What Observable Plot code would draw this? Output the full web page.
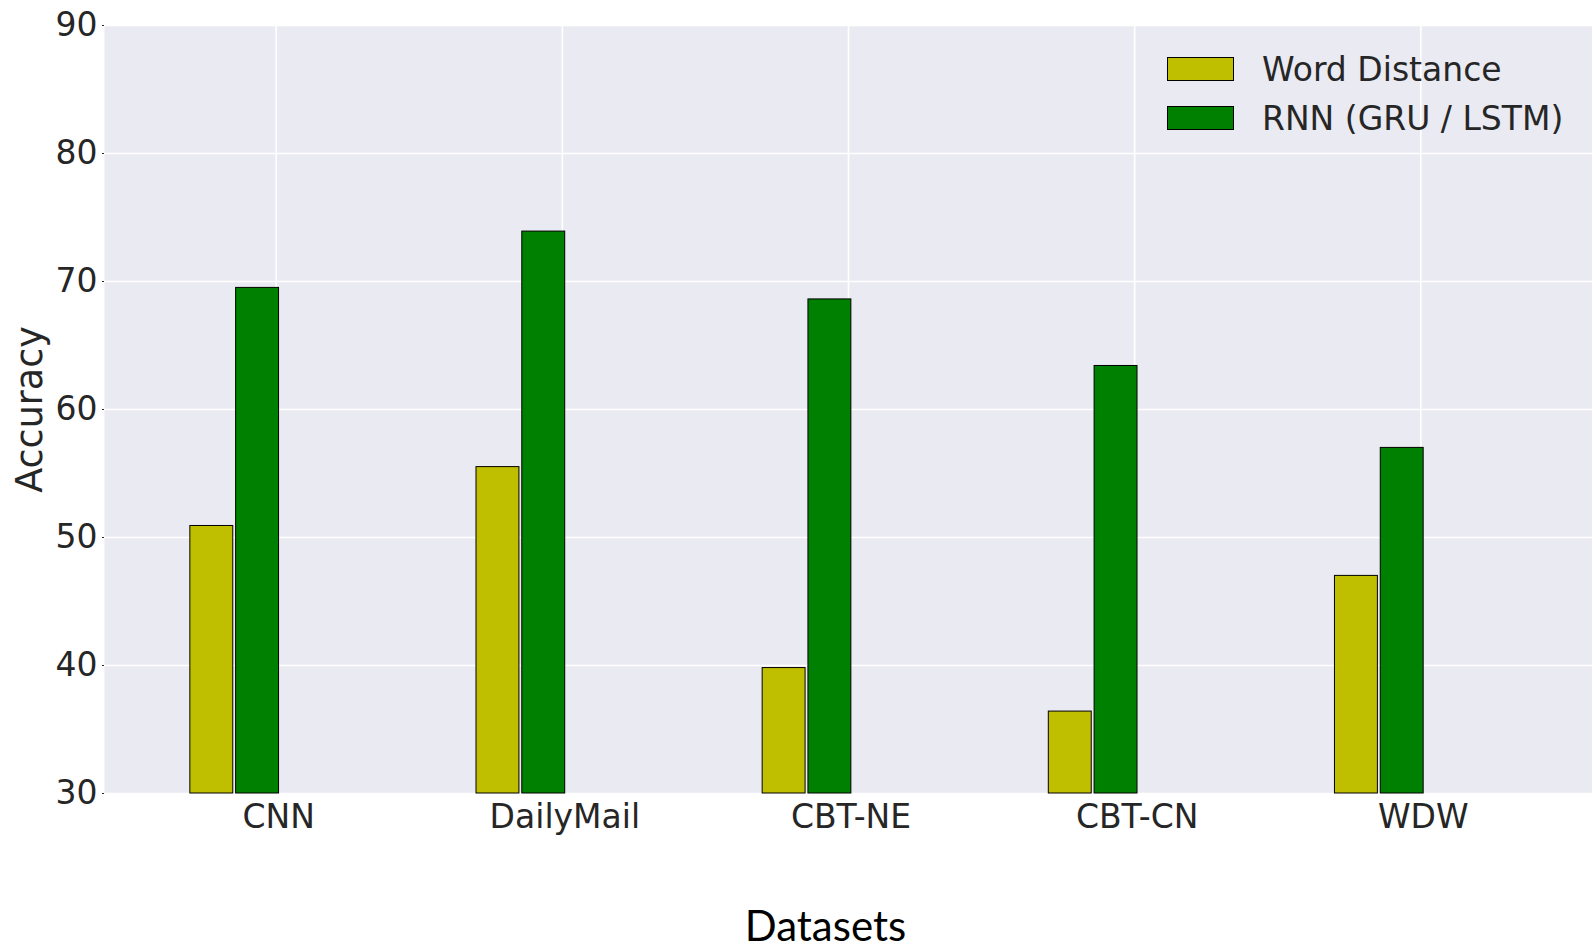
<!DOCTYPE html>
<html>
<head>
<meta charset="utf-8">
<script src="https://cdn.jsdelivr.net/npm/d3@7"></script>
<script src="https://cdn.jsdelivr.net/npm/@observablehq/plot@0.6"></script>
<style>
  html, body { margin: 0; padding: 0; background: #fff; }
  #wrap { position: relative; width: 1592px; height: 950px; overflow: hidden; }
  .leg-sw { position: absolute; width: 66px; height: 23px; border: 1px solid #000; box-sizing: border-box; }
  .leg-tx { position: absolute; font-family: "DejaVu Sans", sans-serif; font-size: 33px; line-height: 1; color: #262626; white-space: nowrap; }
</style>
</head>
<body>
<div id="wrap"></div>
<script>
// ---- data ----
const categories = ["CNN", "DailyMail", "CBT-NE", "CBT-CN", "WDW"];
const seriesNames = ["Word Distance", "RNN (GRU / LSTM)"];
const wordDistance = [50.9, 55.5, 39.8, 36.4, 47.0];
const rnn = [69.5, 73.9, 68.6, 63.4, 57.0];
const yTicks = [30, 40, 50, 60, 70, 80, 90];
const seriesColors = ["#BFBF00", "#008000"];

// table built from the arrays
const seriesValues = [wordDistance, rnn];
const barOffsets = [-0.30, -0.14];   // left edge of each series' bar, relative to category position
const barWidth = 0.15;
const rows = [];
seriesValues.forEach((vals, s) => {
  vals.forEach((v, i) => {
    rows.push({
      series: seriesNames[s],
      idx: i,
      value: v,
      x1: i + barOffsets[s],
      x2: i + barOffsets[s] + barWidth
    });
  });
});

const textColor = "#262626";

const chart = Plot.plot({
  width: 1592,
  height: 950,
  marginLeft: 104,
  marginRight: 0,
  marginTop: 25,
  marginBottom: 157,
  style: { background: "transparent", fontFamily: "DejaVu Sans, sans-serif", color: textColor, overflow: "visible" },
  x: { type: "linear", domain: [-0.6, 4.6] },
  y: { domain: [30, 90] },
  color: { domain: seriesNames, range: seriesColors },
  marks: [
    Plot.frame({ fill: "#EAEAF2", stroke: null }),
    Plot.gridY(yTicks, { stroke: "#fff", strokeOpacity: 1, strokeWidth: 1.6 }),
    Plot.gridX(d3.range(categories.length), { stroke: "#fff", strokeOpacity: 1, strokeWidth: 1.6 }),
    Plot.rectY(rows, {
      x1: "x1", x2: "x2", y1: 30, y2: "value",
      fill: "series", stroke: "#000", strokeWidth: 1, insetLeft: 0, insetRight: 0
    }),
    Plot.axisY(yTicks, {
      tickSize: 2, tickPadding: 5, fontSize: 33, label: null, stroke: textColor
    }),
    Plot.axisX(d3.range(categories.length), {
      tickSize: 0, tickPadding: 11, fontSize: 33, label: null,
      tickFormat: (i) => categories[i], dx: 2.5
    }),
    Plot.text(["Accuracy"], {
      text: (d) => d, frameAnchor: "left", rotate: -90, dx: -74,
      lineAnchor: "middle", textAnchor: "middle", fontSize: 36.5, fill: textColor
    }),
    Plot.text(["Datasets"], {
      text: (d) => d, frameAnchor: "bottom", dx: -23, dy: 134,
      lineAnchor: "middle", textAnchor: "middle", fontSize: 42,
      fontFamily: "Lato, sans-serif", fill: "#000"
    })
  ]
});

const wrap = document.getElementById("wrap");
wrap.appendChild(chart);

// legend (HTML overlay inside plot area)
const legendTop = [56.7, 106];
seriesNames.forEach((name, s) => {
  const sw = document.createElement("div");
  sw.className = "leg-sw";
  sw.style.left = "1167px";
  sw.style.top = legendTop[s] + "px";
  sw.style.width = "67px";
  sw.style.height = "24px";
  sw.style.background = seriesColors[s];
  wrap.appendChild(sw);
  const tx = document.createElement("div");
  tx.className = "leg-tx";
  tx.style.left = "1262px";
  tx.style.top = (legendTop[s] + 24 - 28) + "px";
  tx.textContent = name;
  wrap.appendChild(tx);
});
</script>
</body>
</html>
